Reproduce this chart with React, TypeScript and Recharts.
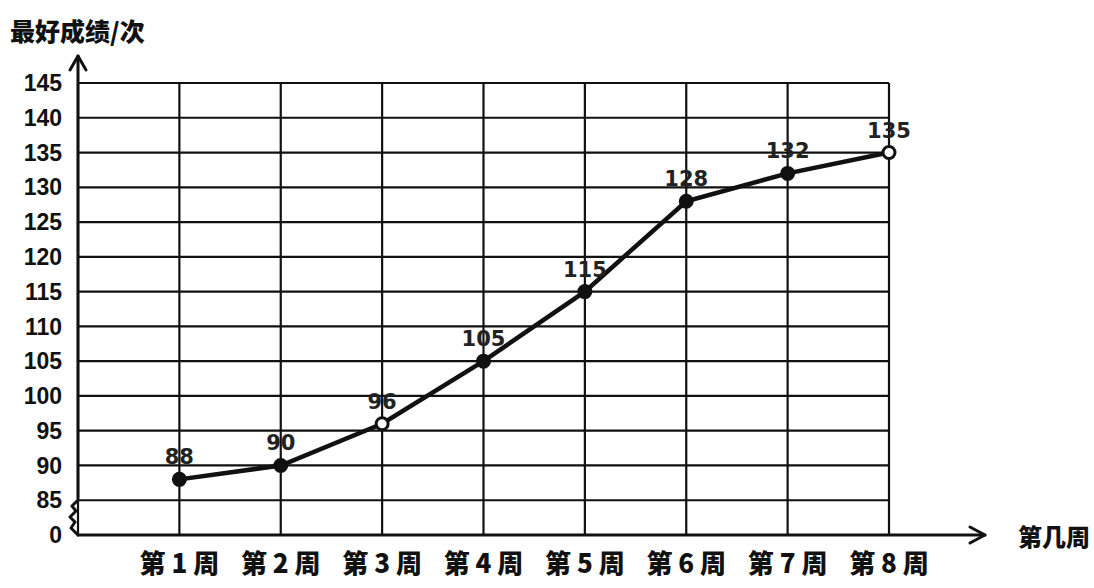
import React from 'react';
import { LineChart, Line, XAxis, YAxis, CartesianGrid, LabelList } from 'recharts';

const weeks = ['第 1 周', '第 2 周', '第 3 周', '第 4 周', '第 5 周', '第 6 周', '第 7 周', '第 8 周'];
const weekNums = [1, 2, 3, 4, 5, 6, 7, 8];
const scores = [88, 90, 96, 105, 115, 128, 132, 135];
const yTicks = [80, 85, 90, 95, 100, 105, 110, 115, 120, 125, 130, 135, 140, 145];
const hollowPoints = [2, 7];

const data = weekNums.map((w, i) => ({ week: w, score: scores[i] }));

const INK = '#111';

function Dot(props: any) {
  const { cx, cy, index } = props;
  const hollow = hollowPoints.includes(index);
  return <circle cx={cx} cy={cy} r={6} fill={hollow ? '#fff' : INK} stroke={INK} strokeWidth={3} />;
}

export default function App() {
  return (
    <div style={{ position: 'absolute', left: 0, top: 0, width: 1094, height: 588, background: '#fff' }}>
      <LineChart width={1094} height={588} data={data} margin={{ top: 83, right: 205, bottom: 0, left: 0 }}>
        <CartesianGrid stroke={INK} strokeWidth={2.2} />
        <XAxis
          dataKey="week"
          type="number"
          domain={[0, 8]}
          ticks={weekNums}
          tickFormatter={(v: number) => weeks[v - 1]}
          height={53}
          axisLine={false}
          tickLine={false}
          tickMargin={14}
          tick={{ fill: INK, fontSize: 26, fontWeight: 900, fontFamily: '"Noto Sans CJK SC"' }}
        />
        <YAxis
          type="number"
          domain={[80, 145]}
          ticks={yTicks}
          tickFormatter={(v: number) => (v === 80 ? '0' : String(v))}
          width={78}
          axisLine={false}
          tickLine={false}
          tickMargin={10}
          interval={0}
          tick={{ fill: INK, fontSize: 23, fontWeight: 'bold', fontFamily: '"Liberation Sans", Arial' }}
        />
        <Line
          dataKey="score"
          type="linear"
          stroke={INK}
          strokeWidth={4.5}
          dot={<Dot />}
          isAnimationActive={false}
        >
          <LabelList
            dataKey="score"
            position="top"
            offset={15}
            style={{ fill: '#222', fontSize: 21, fontWeight: 'bold', fontFamily: '"DejaVu Sans"' }}
          />
        </Line>
      </LineChart>
      <svg width={1094} height={588} style={{ position: 'absolute', left: 0, top: 0, pointerEvents: 'none' }}>
        <g stroke={INK} strokeWidth={3} fill="none" strokeLinecap="round" strokeLinejoin="round">
          <path d="M78 498 L78 56" />
          <path d="M70 70 L78 56 L86 70" />
          <path d="M78 500 L72 506 L76 511 L70 517 L75 522 L71 528 L78 535" />
          <path d="M78 535 L985 535" />
          <path d="M970 527 L985 535 L970 543" />
        </g>
        <text x={10} y={41} fontSize={25} fontWeight={900} fontFamily='"Noto Sans CJK SC"' fill={INK}>
          最好成绩/次
        </text>
        <text x={1018} y={546} fontSize={24} fontWeight={900} fontFamily='"Noto Sans CJK SC"' fill={INK}>
          第几周
        </text>
      </svg>
    </div>
  );
}
